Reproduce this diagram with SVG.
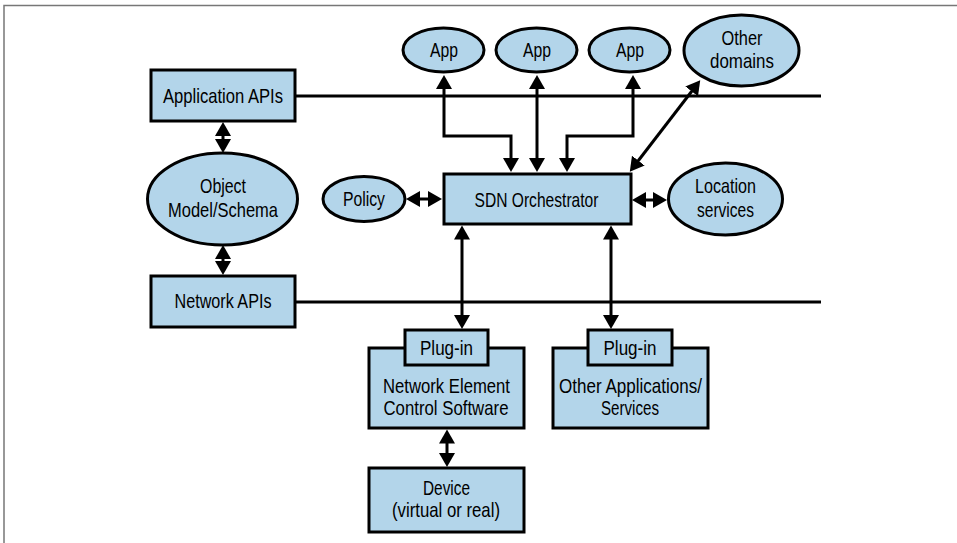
<svg xmlns="http://www.w3.org/2000/svg" width="957" height="543" viewBox="0 0 957 543">
<defs>
<marker id="ah" markerUnits="userSpaceOnUse" markerWidth="15" markerHeight="16" viewBox="0 0 15 16" refX="3" refY="8" orient="auto-start-reverse">
<path d="M0,0 L14,8 L0,16 z" fill="#000"/>
</marker>
<style>
.n{fill:#b3d5ea;stroke:#000;stroke-width:3}
.c{fill:none;stroke:#000;stroke-width:3}
.a{marker-start:url(#ah);marker-end:url(#ah)}
text{font-family:"Liberation Sans",Arial,sans-serif;font-size:21px;fill:#000;text-anchor:middle}
</style>
</defs>
<rect width="957" height="543" fill="#fff"/>
<path d="M4,543 V5.5 H957" fill="none" stroke="#777" stroke-width="1.5"/>
<g id="connectors">
<path class="c" d="M296,96 H821"/>
<path class="c" d="M296,302 H821"/>
<path class="c a" d="M223,133 V142"/>
<path class="c a" d="M223,256 V264"/>
<path class="c a" d="M444,86 V136 H511 V161"/>
<path class="c a" d="M537,86 V161"/>
<path class="c a" d="M633,86 V136 H567 V161"/>
<path class="c a" d="M693.5,89 L636.5,163"/>
<path class="c a" d="M417,199 H431"/>
<path class="c a" d="M643,200 H656"/>
<path class="c a" d="M462,236.5 V318"/>
<path class="c a" d="M611,236.5 V318"/>
<path class="c a" d="M447,440.5 V456"/>
</g>
<g id="app-apis"><rect class="n" x="151" y="70" width="144" height="51"/><text x="223" y="103" textLength="120" lengthAdjust="spacingAndGlyphs">Application APIs</text></g>
<g id="object-model"><ellipse class="n" cx="222.5" cy="199" rx="75" ry="46"/><text x="223" y="193" textLength="46" lengthAdjust="spacingAndGlyphs">Object</text><text x="223" y="216.5" textLength="110" lengthAdjust="spacingAndGlyphs">Model/Schema</text></g>
<g id="network-apis"><rect class="n" x="151" y="276" width="144" height="51"/><text x="223" y="308" textLength="97" lengthAdjust="spacingAndGlyphs">Network APIs</text></g>
<g id="app1"><ellipse class="n" cx="443.5" cy="50" rx="40.5" ry="22"/><text x="444" y="57" textLength="28" lengthAdjust="spacingAndGlyphs">App</text></g>
<g id="app2"><ellipse class="n" cx="536.5" cy="50" rx="40.5" ry="22"/><text x="537" y="57" textLength="28" lengthAdjust="spacingAndGlyphs">App</text></g>
<g id="app3"><ellipse class="n" cx="629.5" cy="50" rx="40.5" ry="22"/><text x="630" y="57" textLength="28" lengthAdjust="spacingAndGlyphs">App</text></g>
<g id="other-domains"><ellipse class="n" cx="741.5" cy="50.5" rx="57.5" ry="35.5"/><text x="742" y="44.5" textLength="41" lengthAdjust="spacingAndGlyphs">Other</text><text x="742" y="68" textLength="64" lengthAdjust="spacingAndGlyphs">domains</text></g>
<g id="policy"><ellipse class="n" cx="364" cy="199" rx="41" ry="22.5"/><text x="364" y="206" textLength="42" lengthAdjust="spacingAndGlyphs">Policy</text></g>
<g id="sdn-orchestrator"><rect class="n" x="444" y="174" width="187" height="50"/><text x="536.5" y="206.5" textLength="124" lengthAdjust="spacingAndGlyphs">SDN Orchestrator</text></g>
<g id="location-services"><ellipse class="n" cx="725.5" cy="199" rx="57" ry="36"/><text x="725.5" y="193" textLength="61" lengthAdjust="spacingAndGlyphs">Location</text><text x="725.5" y="216.5" textLength="57" lengthAdjust="spacingAndGlyphs">services</text></g>
<g id="network-element"><rect class="n" x="369" y="348" width="155" height="80"/><rect class="n" x="405" y="330" width="83" height="35"/><text x="446.5" y="355" textLength="53" lengthAdjust="spacingAndGlyphs">Plug-in</text><text x="446.5" y="393" textLength="127" lengthAdjust="spacingAndGlyphs">Network Element</text><text x="446" y="415" textLength="125" lengthAdjust="spacingAndGlyphs">Control Software</text></g>
<g id="other-applications"><rect class="n" x="553" y="348" width="155" height="80"/><rect class="n" x="588" y="330" width="84" height="35"/><text x="630" y="355" textLength="53" lengthAdjust="spacingAndGlyphs">Plug-in</text><text x="630.5" y="393" textLength="143" lengthAdjust="spacingAndGlyphs">Other Applications/</text><text x="630" y="415" textLength="58" lengthAdjust="spacingAndGlyphs">Services</text></g>
<g id="device"><rect class="n" x="369" y="468" width="155" height="64"/><text x="446.5" y="495" textLength="47" lengthAdjust="spacingAndGlyphs">Device</text><text x="446" y="516.5" textLength="108" lengthAdjust="spacingAndGlyphs">(virtual or real)</text></g>
</svg>
